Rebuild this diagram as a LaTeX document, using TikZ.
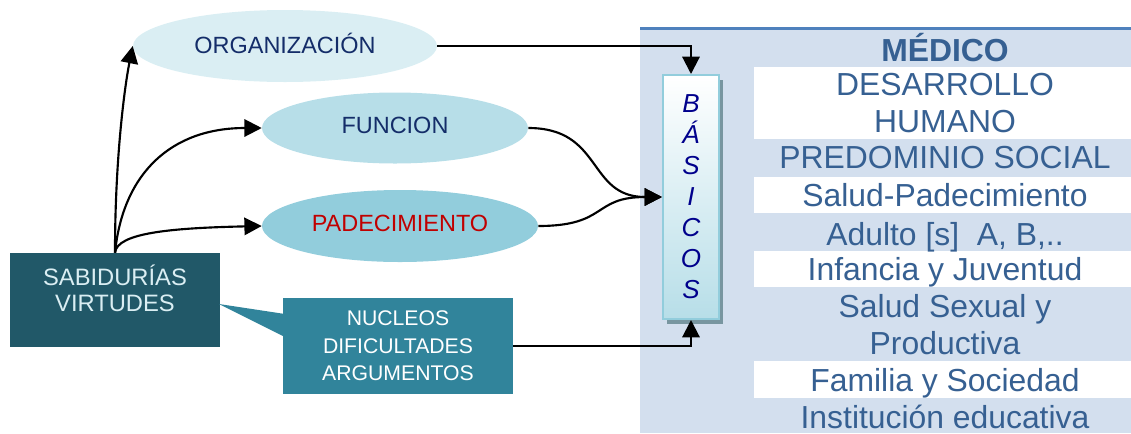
\documentclass[tikz,border=0pt]{standalone}
\usepackage{fontspec}
\setmainfont{Liberation Sans}
\usetikzlibrary{arrows.meta,shapes.geometric,shadows}
\definecolor{panelbg}{RGB}{211,223,238}
\definecolor{panelline}{RGB}{79,129,189}
\definecolor{rowtxt}{RGB}{54,96,146}
\definecolor{navy}{RGB}{20,45,105}
\definecolor{orgfill}{RGB}{218,238,243}
\definecolor{funfill}{RGB}{183,222,232}
\definecolor{padfill}{RGB}{146,205,220}
\definecolor{padred}{RGB}{192,0,0}
\definecolor{sabfill}{RGB}{33,88,104}
\definecolor{sabtxt}{RGB}{218,238,243}
\definecolor{nucfill}{RGB}{49,132,155}
\definecolor{basborder}{RGB}{146,205,220}
\definecolor{basbottom}{RGB}{183,222,232}
\definecolor{basletter}{RGB}{0,0,140}
\definecolor{shadowcol}{RGB}{120,150,160}
\tikzset{
  ell/.style={ellipse, inner sep=0pt, text depth=0.35em, font=\fontsize{17.6}{21}\selectfont},
  rowtext/.style={inner sep=0pt, align=center, text=rowtxt, font=\fontsize{23.9}{27.75}\selectfont},
  arr/.style={line width=1.6pt, -{Triangle[length=13pt,width=13pt]}},
}
\begin{document}
\begin{tikzpicture}[x=0.75pt,y=-0.75pt]
\useasboundingbox (0,0) rectangle (1131,433);
% right panel
\fill[panelbg] (640,28) rectangle (1131,433);
\draw[panelline, line width=2.25pt] (640,28) -- (1131,28);
\fill[white] (754,67) rectangle (1131,139);
\fill[white] (754,177) rectangle (1131,213);
\fill[white] (754,251) rectangle (1131,287);
\fill[white] (754,361) rectangle (1131,398);
\node[rowtext, font=\fontsize{23.9}{27.75}\selectfont\bfseries] (medico) at (945,48) {MÉDICO};
\node[rowtext] (desarrollo) at (945,103) {DESARROLLO\\HUMANO};
\node[rowtext] (predominio) at (945,158) {PREDOMINIO SOCIAL};
\node[rowtext] (saludpad) at (945,195) {Salud-Padecimiento};
\node[rowtext, anchor=base] (adulto) at (945,245) {Adulto [s]\ \ A, B,..};
\node[rowtext, anchor=base] (infancia) at (945,280.5) {Infancia y Juventud};
\node[rowtext] (sexual) at (945,324.5) {Salud Sexual y\\Productiva};
\node[rowtext, anchor=base] (familia) at (945,391.5) {Familia y Sociedad};
\node[rowtext, anchor=base] (institucion) at (945,428.5) {Institución educativa};
% BASICOS box
\node[draw=basborder, line width=1.5pt, top color=white, bottom color=basbottom,
      minimum width=42pt, minimum height=183pt, inner sep=0pt, align=center,
      text=basletter, font=\fontsize{19.5}{23.25}\selectfont\itshape,
      drop shadow={shadow xshift=3pt, shadow yshift=-3.5pt, fill=shadowcol, opacity=1}]
  (bas) at (691,197) {B\\Á\\S\\I\\C\\O\\S};
% ellipses
\node[ell, fill=orgfill, minimum width=228pt, minimum height=54pt, text=navy] (org) at (285,46) {ORGANIZACIÓN};
\node[ell, fill=funfill, minimum width=199.5pt, minimum height=53.25pt, text=navy] (fun) at (395,128) {FUNCION};
\node[ell, fill=padfill, minimum width=207pt, minimum height=54pt, text=padred] (pad) at (400,226) {PADECIMIENTO};
% left boxes
\node[fill=sabfill, minimum width=157.5pt, minimum height=70.5pt, inner sep=0pt, align=center,
      text=sabtxt, text depth=17pt, font=\fontsize{17.8}{19.5}\selectfont] (sab) at (115,300) {SABIDURÍAS\\VIRTUDES};
\fill[nucfill] (285,314) -- (219,304) -- (285,337) -- cycle;
\node[fill=nucfill, minimum width=172.5pt, minimum height=72pt, inner sep=0pt, align=center,
      text=white, font=\fontsize{15.9}{20.6}\selectfont] (nuc) at (398,346) {NUCLEOS\\DIFICULTADES\\ARGUMENTOS};
% connectors
\draw[arr] (org.east) -- (org.east -| bas.north) -- (bas.north);
\draw[arr] (nuc.east) -- (nuc.east -| bas.south) -- (bas.south);
\draw[arr] (fun.east) .. controls +(75,0) and +(-75,0) .. (bas.west);
\draw[arr] (pad.east) .. controls +(70,0) and +(-70,0) .. (bas.west);
\draw[arr] (sab.north) .. controls +(0,-95) and +(-8,40) .. (org.west);
\draw[arr] (sab.north) .. controls +(8,-80) and +(-90,0) .. (fun.west);
\draw[arr] (sab.north) .. controls +(2,-20) and +(-90,2) .. (pad.west);
\end{tikzpicture}
\end{document}
